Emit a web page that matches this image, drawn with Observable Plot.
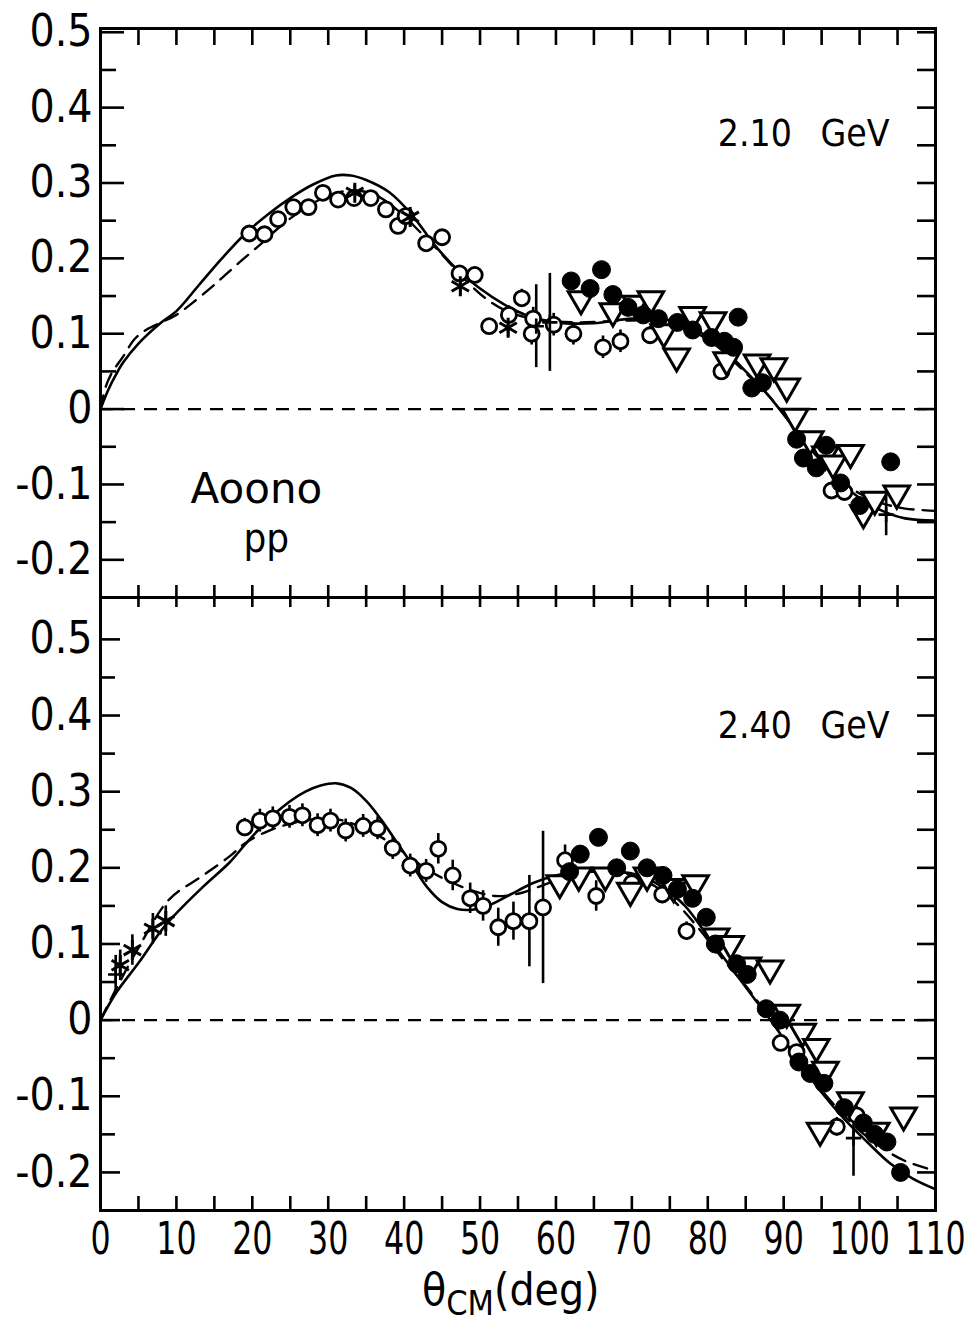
<!DOCTYPE html>
<html>
<head>
<meta charset="utf-8">
<script src="https://cdn.jsdelivr.net/npm/d3@7"></script>
<script src="https://cdn.jsdelivr.net/npm/@observablehq/plot@0.6"></script>
<style>
  body { margin: 0; background: #fff; }
  #wrap { position: relative; width: 966px; height: 1327px; overflow: hidden;
          font-family: "DejaVu Sans Condensed", "DejaVu Sans", sans-serif; color: #000; }
  #wrap svg { position: absolute; left: 0; overflow: visible; }
  #xlabel { position: absolute; left: 422px; top: 1271px; font-size: 44px; line-height: 38px; white-space: nowrap;
            font-family: "DejaVu Sans Condensed", "DejaVu Sans", sans-serif; }
  #xlabel sub { font-size: 34px; line-height: 28px; vertical-align: -10px; }
</style>
</head>
<body>
<div id="wrap"></div>
<script>
// ---------- DATA ----------
// 2.10 GeV panel
const solid210 = [[0,0],[1,0.025],[2,0.045],[3,0.062],[5,0.087],[8,0.115],[10,0.13],[13,0.165],[16,0.2],[19,0.232],[22,0.258],[25,0.28],[28,0.298],[31,0.31],[33,0.31],[35,0.304],[38,0.288],[41,0.258],[44,0.218],[47,0.185],[50,0.16],[53,0.14],[56,0.125],[60,0.115],[65,0.114],[70,0.12],[75,0.118],[78,0.108],[82,0.08],[85,0.05],[88,0.018],[91,-0.02],[94,-0.058],[97,-0.092],[100,-0.118],[103,-0.135],[106,-0.145],[110,-0.148]];
const dashed210 = [[0,0],[0.7,0.03],[1.5,0.048],[3,0.07],[4.5,0.093],[6,0.105],[8,0.115],[10,0.125],[12,0.14],[15,0.165],[18,0.192],[21,0.218],[24,0.245],[27,0.267],[30,0.283],[33,0.29],[36,0.285],[39,0.265],[42,0.236],[45,0.205],[48,0.172],[51,0.145],[54,0.128],[58,0.118],[63,0.115],[68,0.117],[73,0.117],[77,0.108],[81,0.085],[85,0.048],[88,0.018],[91,-0.02],[94,-0.058],[97,-0.09],[100,-0.112],[103,-0.125],[106,-0.132],[110,-0.135]];
const open210 = [[19.6,0.233,0.008],[21.6,0.232,0.008],[23.4,0.252,0.008],[25.4,0.268,0.008],[27.4,0.268,0.008],[29.3,0.287,0.01],[31.3,0.278,0.01],[33.4,0.28,0.01],[35.6,0.28,0.01],[37.6,0.265,0.01],[39.2,0.243,0.01],[40.2,0.256,0.01],[42.9,0.22,0.01],[45.0,0.228,0.01],[47.3,0.18,0.01],[49.3,0.178,0.01],[51.2,0.11,0.01],[53.8,0.125,0.012],[55.5,0.147,0.012],[57.0,0.12,0.015],[56.8,0.1,0.015],[59.7,0.112,0.015],[62.3,0.1,0.015],[66.2,0.082,0.015],[68.5,0.09,0.015],[72.4,0.098,0.012],[81.8,0.05,0.01],[96.3,-0.108,0.01],[98.0,-0.11,0.01]];
const star210 = [[33.5,0.287,0.01],[40.8,0.255,0.01],[47.4,0.163,0.012],[53.7,0.108,0.012]];
const plus210 = [[57.4,0.11,0.055],[59.2,0.115,0.065],[103.5,-0.14,0.028]];
const filled210 = [[62.0,0.17],[64.5,0.16],[66.0,0.185],[67.5,0.152],[69.5,0.135],[71.5,0.125],[73.5,0.12],[76.0,0.115],[78.0,0.105],[80.5,0.095],[82.2,0.09],[84.0,0.122],[83.4,0.082],[85.8,0.028],[87.2,0.035],[91.7,-0.04],[92.6,-0.065],[94.3,-0.078],[95.6,-0.048],[97.5,-0.098],[100.0,-0.128],[104.1,-0.07]];
const tri210 = [[63.3,0.146],[67.5,0.13],[70.5,0.14],[72.5,0.146],[74.2,0.102],[75.9,0.07],[78.0,0.125],[80.7,0.118],[82.5,0.065],[86.5,0.062],[88.7,0.057],[90.4,0.03],[91.5,-0.01],[93.5,-0.04],[95.5,-0.06],[96.5,-0.072],[98.8,-0.058],[100.5,-0.138],[102.0,-0.12],[104.9,-0.112]];

// 2.40 GeV panel
const solid240 = [[0,0],[2,0.035],[5,0.075],[8.6,0.125],[13.5,0.175],[17,0.207],[19,0.23],[21,0.252],[24,0.28],[27,0.3],[29,0.308],[31,0.311],[33,0.305],[35,0.288],[37,0.263],[39,0.234],[41,0.205],[43,0.175],[45,0.155],[47,0.146],[49,0.145],[51,0.15],[54,0.165],[57,0.18],[60,0.19],[64,0.195],[68,0.195],[71,0.19],[74,0.175],[77,0.15],[80,0.11],[83,0.07],[86,0.03],[89,-0.01],[92,-0.055],[95,-0.095],[98,-0.13],[101,-0.16],[104,-0.188],[107,-0.208],[110,-0.222]];
const dashed240 = [[0,0],[2,0.04],[5,0.095],[9,0.158],[13.5,0.19],[17,0.215],[19,0.232],[22,0.248],[25,0.258],[28,0.264],[31,0.264],[34,0.255],[37,0.24],[40,0.22],[43,0.198],[46,0.182],[49,0.17],[52,0.163],[55,0.166],[58,0.176],[61,0.187],[64,0.194],[67,0.195],[70,0.19],[73,0.176],[76,0.152],[79,0.118],[82,0.08],[85,0.045],[88,0.005],[91,-0.04],[94,-0.08],[97,-0.115],[100,-0.145],[103,-0.168],[106,-0.185],[110,-0.198]];
const open240 = [[19.0,0.253,0.012],[21.0,0.262,0.015],[22.7,0.265,0.015],[24.9,0.267,0.015],[26.6,0.269,0.015],[28.6,0.256,0.015],[30.3,0.262,0.015],[32.3,0.249,0.015],[34.6,0.255,0.015],[36.5,0.252,0.015],[38.5,0.226,0.015],[40.8,0.203,0.015],[42.9,0.196,0.015],[44.5,0.225,0.02],[46.4,0.19,0.02],[48.7,0.16,0.02],[50.4,0.15,0.02],[52.4,0.122,0.025],[54.4,0.13,0.025],[56.5,0.13,0.06],[58.3,0.148,0.1],[61.2,0.21,0.02],[65.3,0.163,0.02],[70.0,0.18,0.012],[74.0,0.165,0.012],[77.2,0.117,0.012],[89.6,-0.03,0.01],[91.7,-0.042,0.01],[97.0,-0.14,0.012],[99.6,-0.125,0.012]];
const star240 = [[2.6,0.072,0.02],[4.2,0.092,0.02],[6.9,0.12,0.02],[8.6,0.13,0.02]];
const plus240 = [[2.0,0.06,0.025],[99.2,-0.155,0.05]];
const filled240 = [[61.8,0.195],[63.2,0.218],[65.6,0.24],[68.0,0.2],[69.8,0.222],[72.0,0.2],[74.1,0.19],[76.0,0.172],[78.0,0.16],[79.8,0.135],[81.0,0.1],[83.8,0.074],[85.2,0.06],[87.7,0.015],[89.5,0.0],[92.0,-0.055],[93.5,-0.07],[95.3,-0.083],[98.0,-0.115],[100.5,-0.135],[102.0,-0.15],[103.6,-0.16],[105.4,-0.2]];
const tri240 = [[60.5,0.18],[63.0,0.19],[66.5,0.19],[69.8,0.17],[72.0,0.19],[75.5,0.175],[78.4,0.18],[81.1,0.11],[83.0,0.1],[85.3,0.072],[88.2,0.068],[90.4,0.01],[92.5,-0.015],[94.3,-0.035],[95.5,-0.065],[98.8,-0.105],[94.8,-0.145],[102.2,-0.145],[105.8,-0.125]];

// ticks and labels
const yLabels = [-0.2,-0.1,0,0.1,0.2,0.3,0.4,0.5];
const yMinor = [-0.15,-0.05,0.05,0.15,0.25,0.35,0.45];
const xMinor = [5,10,15,20,25,30,35,40,45,50,55,60,65,70,75,80,85,90,95,100,105];
const xLabels = [0,10,20,30,40,50,60,70,80,90,100,110];
const zeroLine = [0];
const energy210 = ["2.10 GeV"];
const energy240 = ["2.40 GeV"];
const obsLabel = ["Aoono"];
const obsSub = ["pp"];

// ---------- DRAWING ----------
const W = 966, ML = 100, MR = 31, PW = W - ML - MR;
const FONT = '"DejaVu Sans Condensed","DejaVu Sans",sans-serif';
const FONT_WIDE = '"DejaVu Sans",sans-serif';
const fmt = d => d === 0 ? "0" : String(+d.toFixed(2));
const P = a => a.map(d => ({x: d[0], y: d[1], e: d[2] ?? 0}));
const SW = 2.6;

function dataMarks(s) {
  return [
    Plot.ruleY(zeroLine, {y: d => d, strokeDasharray: "13,9", strokeWidth: 2.2}),
    Plot.ruleX(P(s.open), {x: "x", y1: d => d.y - d.e, y2: d => d.y + d.e, strokeWidth: SW}),
    Plot.ruleX(P(s.star), {x: "x", y1: d => d.y - d.e, y2: d => d.y + d.e, strokeWidth: SW}),
    Plot.ruleX(P(s.plus), {x: "x", y1: d => d.y - d.e, y2: d => d.y + d.e, strokeWidth: SW}),
    Plot.line(P(s.solid), {x: "x", y: "y", curve: "catmull-rom", strokeWidth: 2.6}),
    Plot.line(P(s.dashed), {x: "x", y: "y", curve: "catmull-rom", strokeWidth: 2.4, strokeDasharray: "14,9"}),
    Plot.dot(P(s.open), {x: "x", y: "y", r: 7.5, stroke: "black", fill: "white", strokeWidth: 2.8}),
    Plot.dot(P(s.star), {x: "x", y: "y", r: 9.5, symbol: "asterisk", stroke: "black", strokeWidth: 3}),
    Plot.dot(P(s.plus), {x: "x", y: "y", r: 5, symbol: "plus", stroke: "black", strokeWidth: 2.6}),
    Plot.dot(P(s.tri), {x: "x", y: "y", r: 9.5, symbol: "triangle", rotate: 180, stroke: "black", fill: "white", strokeWidth: 3}),
    Plot.dot(P(s.filled), {x: "x", y: "y", r: 9, fill: "black", stroke: "black", strokeWidth: 1})
  ];
}

function frameMarks(ph, majLen, minLen, topLen, botLen) {
  return [
    Plot.tickY(yLabels, {y: d => d, insetRight: PW - majLen, strokeWidth: 2.6}),
    Plot.tickY(yMinor, {y: d => d, insetRight: PW - minLen, strokeWidth: 2.6}),
    Plot.tickY(yLabels.concat(yMinor), {y: d => d, insetLeft: PW - 18, strokeWidth: 2.6}),
    Plot.tickX(xMinor, {x: d => d, insetBottom: ph - topLen, strokeWidth: 2.6}),
    Plot.tickX(xMinor, {x: d => d, insetTop: ph - botLen, strokeWidth: 2.6}),
    Plot.frame({stroke: "black", strokeWidth: 3}),
    Plot.axisY(yLabels, {tickSize: 0, tickPadding: 8, tickFormat: fmt, fontSize: 44, fontFamily: FONT, label: null})
  ];
}

// horizontal squeeze of selected texts (keeps them as real text)
function squeeze(svg, selector, sx) {
  d3.select(svg).selectAll(selector).each(function() {
    const t = this.getAttribute("transform") || "";
    this.setAttribute("transform", t + ` scale(${sx},1)`);
  });
}
function spaceWords(svg, match, px) {
  d3.select(svg).selectAll("text").each(function() {
    if (this.textContent === match) this.style.wordSpacing = px + "px";
  });
}

const wrap = document.getElementById("wrap");

// Top panel: 2.10 GeV
const h1 = 600, mt1 = 28, mb1 = 3, ph1 = h1 - mt1 - mb1;
const topPlot = Plot.plot({
  width: W, height: h1, marginLeft: ML, marginRight: MR, marginTop: mt1, marginBottom: mb1,
  style: {fontFamily: FONT, background: "transparent", color: "black"},
  x: {domain: [0, 110], axis: null},
  y: {domain: [-0.25, 0.505], axis: null},
  marks: [
    ...dataMarks({solid: solid210, dashed: dashed210, open: open210, star: star210, plus: plus210, filled: filled210, tri: tri210}),
    ...frameMarks(ph1, 24, 16, 17, 12),
    Plot.text(energy210, {text: d => d, frameAnchor: "top-right", dx: -46, dy: 117, textAnchor: "end", lineAnchor: "bottom", fontSize: 37, fontFamily: FONT}),
    Plot.text(obsLabel, {text: d => d, frameAnchor: "bottom-left", dx: 90, dy: -95, textAnchor: "start", lineAnchor: "bottom", fontSize: 42, fontFamily: FONT_WIDE}),
    Plot.text(obsSub, {text: d => d, frameAnchor: "bottom-left", dx: 143, dy: -46, textAnchor: "start", lineAnchor: "bottom", fontSize: 40, fontFamily: FONT})
  ]
});
topPlot.style.top = "0px";
spaceWords(topPlot, energy210[0], 18);
wrap.appendChild(topPlot);

// Bottom panel: 2.40 GeV
const h2 = 733, mt2 = 3, mb2 = 117, ph2 = h2 - mt2 - mb2;
const bottomPlot = Plot.plot({
  width: W, height: h2, marginLeft: ML, marginRight: MR, marginTop: mt2, marginBottom: mb2,
  style: {fontFamily: FONT, background: "transparent", color: "black"},
  x: {domain: [0, 110], axis: null},
  y: {domain: [-0.25, 0.555], axis: null},
  marks: [
    ...dataMarks({solid: solid240, dashed: dashed240, open: open240, star: star240, plus: plus240, filled: filled240, tri: tri240}),
    ...frameMarks(ph2, 20, 15, 10, 14),
    Plot.axisX(xLabels, {tickSize: 0, tickPadding: 12, fontSize: 44, fontFamily: FONT, label: null}),
    Plot.text(energy240, {text: d => d, frameAnchor: "top-right", dx: -46, dy: 140, textAnchor: "end", lineAnchor: "bottom", fontSize: 37, fontFamily: FONT})
  ]
});
bottomPlot.style.top = "594px";
squeeze(bottomPlot, 'g[aria-label="x-axis tick label"] text', 0.8);
spaceWords(bottomPlot, energy240[0], 18);
wrap.appendChild(bottomPlot);

// Axis title with subscript
const xl = document.createElement("div");
xl.id = "xlabel";
xl.innerHTML = "θ<sub>CM</sub>(deg)";
wrap.appendChild(xl);
</script>
</body>
</html>
